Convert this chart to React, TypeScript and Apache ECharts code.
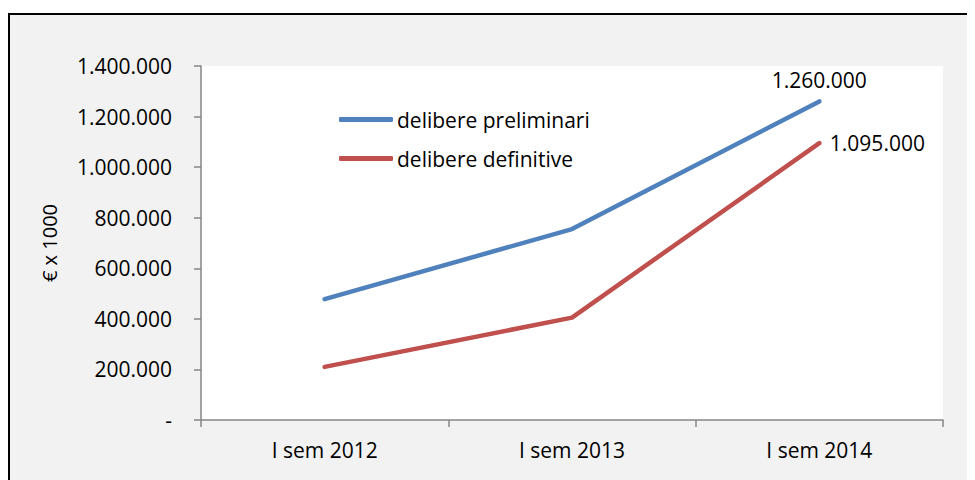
import React, { useEffect, useRef } from "react";
import * as echarts from "echarts";

// Semester categories and the two series of resolutions (€ x 1000)
const categories = ["I sem 2012", "I sem 2013", "I sem 2014"];
const delibereLabel = "delibere preliminari";
const definitiveLabel = "delibere definitive";
const delibere = [478000, 755000, 1260000];
const definitive = [210000, 405000, 1095000];
const yMin = 0;
const yMax = 1400000;
const yStep = 200000;

const FONT = "'Open Sans', 'Noto Sans', sans-serif";
const FS = 21;

// Italian-style thousands separator: 1.260.000, zero shown as "-"
const fmt = (v: number) =>
  v === 0 ? "-" : Math.round(v).toString().replace(/\B(?=(\d{3})+(?!\d))/g, ".");

export default function App() {
  const ref = useRef<HTMLDivElement>(null);

  useEffect(() => {
    if (!ref.current) return;
    const chart = echarts.init(ref.current, undefined, { renderer: "svg" });
    const lastIdx = categories.length - 1;

    const lineSeries = (name: string, values: number[], color: string, labelPos: any) => ({
      name,
      type: "line",
      data: values.map((v, i) =>
        i === lastIdx ? { value: v, label: { show: true, ...labelPos } } : v
      ),
      symbol: "circle",
      symbolSize: 1,
      showSymbol: true,
      color,
      itemStyle: { color },
      lineStyle: { width: 4.5, color, cap: "round", join: "round" },
      label: {
        show: false,
        fontFamily: FONT,
        fontSize: FS,
        color: "#000",
        formatter: (p: any) => fmt(p.value),
      },
    });

    chart.setOption({
      animation: false,
      backgroundColor: "#ffffff",
      textStyle: { fontFamily: FONT },
      graphic: [
        {
          type: "rect",
          z: -10,
          silent: true,
          shape: { x: 1, y: 6, width: 1100, height: 1100 },
          style: { fill: "#F2F2F2", stroke: "#000000", lineWidth: 2 },
        },
      ],
      grid: {
        left: 193,
        right: 32,
        top: 58,
        bottom: 60,
        show: true,
        backgroundColor: "#ffffff",
        borderWidth: 0,
      },
      legend: {
        orient: "vertical",
        left: 326,
        top: 95,
        itemWidth: 54,
        itemHeight: 5,
        itemGap: 16,
        icon: "roundRect",
        textStyle: { fontFamily: FONT, fontSize: FS, color: "#000", lineHeight: 23, padding: [0, 0, 0, -1] },
        data: [delibereLabel, definitiveLabel],
      },
      xAxis: {
        type: "category",
        data: categories,
        boundaryGap: true,
        axisLine: { lineStyle: { color: "#868686", width: 1.5 } },
        axisTick: { show: true, length: 7, lineStyle: { color: "#868686", width: 1.5 } },
        axisLabel: { fontFamily: FONT, fontSize: FS, color: "#000", margin: 19 },
        splitLine: { show: false },
      },
      yAxis: {
        type: "value",
        min: yMin,
        max: yMax,
        interval: yStep,
        name: "€ x 1000",
        nameLocation: "middle",
        nameRotate: 90,
        nameGap: 142,
        nameTextStyle: { fontFamily: FONT, fontSize: 20, color: "#000" },
        axisLine: { show: true, lineStyle: { color: "#868686", width: 1.5 } },
        axisTick: { show: true, length: 7, lineStyle: { color: "#868686", width: 1.5 } },
        axisLabel: { fontFamily: FONT, fontSize: FS, color: "#000", margin: 29, formatter: fmt },
        splitLine: { show: false },
      },
      series: [
        lineSeries(delibereLabel, delibere, "#4F81BD", { position: "top", distance: 10 }),
        lineSeries(definitiveLabel, definitive, "#C0504D", { position: "right", distance: 10 }),
      ],
    });

    return () => chart.dispose();
  }, []);

  return <div ref={ref} style={{ width: 967, height: 472 }} />;
}
